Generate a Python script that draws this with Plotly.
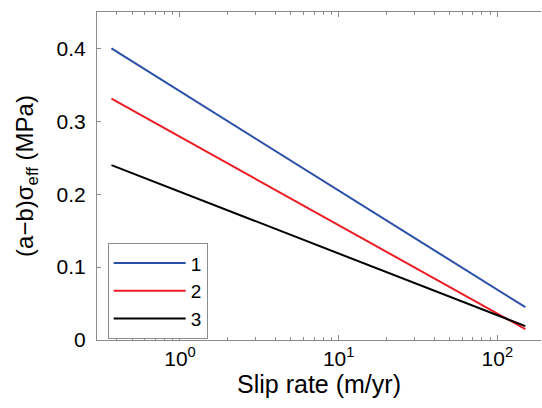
import plotly.graph_objects as go

# Data
slip_rate = [0.37, 150]
series_names = ["1", "2", "3"]
ab_sigma_1 = [0.400, 0.045]
ab_sigma_2 = [0.331, 0.015]
ab_sigma_3 = [0.240, 0.019]
x_tickvals = [1, 10, 100]
x_ticktext = ["10<sup>0</sup>", "10<sup>1</sup>", "10<sup>2</sup>"]
x_minor_tickvals = [0.4, 0.5, 0.6, 0.7, 0.8, 0.9,
                    2, 3, 4, 5, 6, 7, 8, 9,
                    20, 30, 40, 50, 60, 70, 80, 90]
y_tickvals = [0, 0.1, 0.2, 0.3, 0.4]
y_ticktext = ["0", "0.1", "0.2", "0.3", "0.4"]

colors = ["#2a4fa6", "#ec1c24", "#000000"]
series = [ab_sigma_1, ab_sigma_2, ab_sigma_3]

fig = go.Figure()
for name, ys, c in zip(series_names, series, colors):
    fig.add_trace(go.Scatter(x=slip_rate, y=ys, mode="lines", name=name,
                             line=dict(color=c, width=2)))

font_family = "Liberation Sans, Arial, sans-serif"
axis_color = "#8c8c8c"

fig.update_layout(
    width=542, height=408,
    margin=dict(l=97, r=1, t=12, b=68),
    paper_bgcolor="white", plot_bgcolor="white",
    font=dict(family=font_family, color="black", size=20),
    showlegend=True,
    legend=dict(x=0.024, y=0.295, xanchor="left", yanchor="top",
                bordercolor=axis_color, borderwidth=1, bgcolor="white",
                font=dict(size=19), itemwidth=72, tracegroupgap=0),
    xaxis=dict(type="log", range=[-0.523, 2.275], automargin=False,
               tickvals=x_tickvals, ticktext=x_ticktext,
               ticks="inside", ticklen=5, tickcolor=axis_color,
               minor=dict(tickvals=x_minor_tickvals, ticks="inside", ticklen=3,
                          tickcolor=axis_color, showgrid=False),
               showline=True, linecolor=axis_color, linewidth=1,
               mirror="ticks", showgrid=False, zeroline=False,
               tickfont=dict(size=21),
               title=dict(text="Slip rate (m/yr)", font=dict(size=25), standoff=4)),
    yaxis=dict(range=[0, 0.45], automargin=False,
               tickvals=y_tickvals, ticktext=y_ticktext,
               ticks="inside", ticklen=4, tickcolor=axis_color,
               showline=True, linecolor=axis_color, linewidth=1,
               showgrid=False, zeroline=False,
               tickfont=dict(size=21), ticklabelstandoff=6,
               title=dict(text="(a\u2212b)\u03c3<sub>eff</sub> (MPa)", font=dict(size=24), standoff=16)),
)

fig.write_html("out.html", config={"displayModeBar": False},
               post_script="document.body.style.margin='0';document.body.style.overflow='hidden';")
